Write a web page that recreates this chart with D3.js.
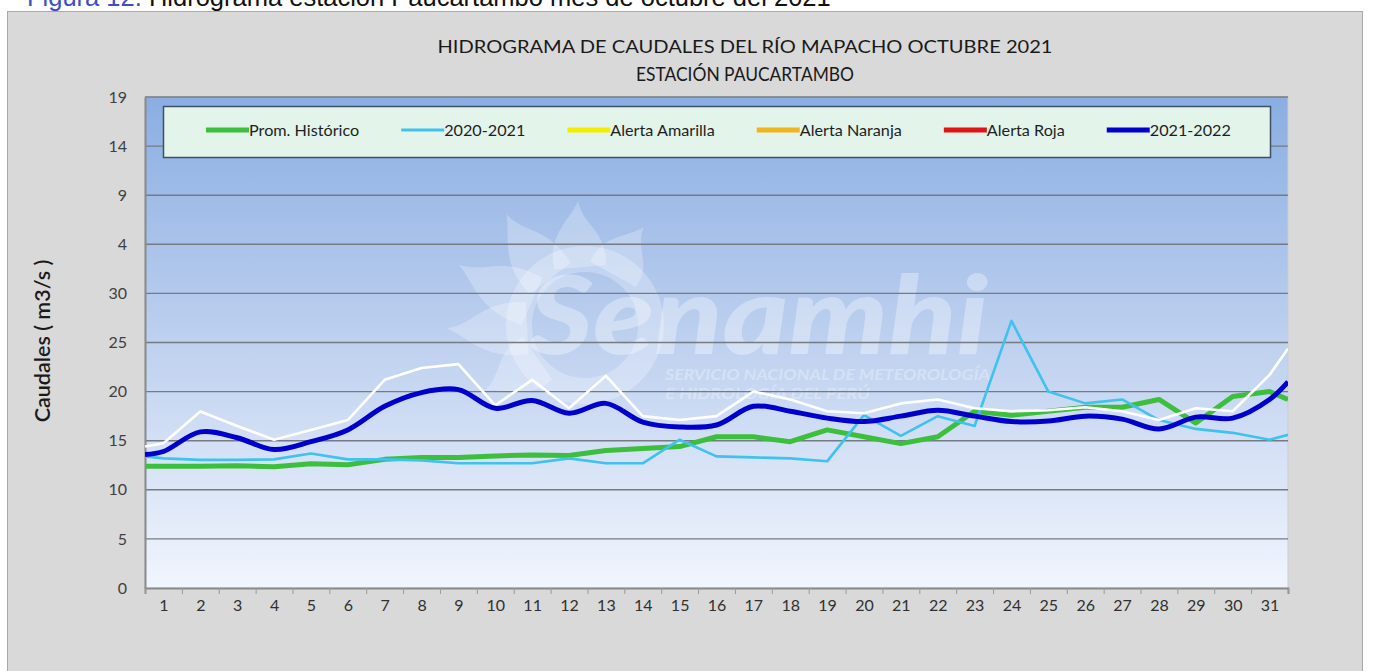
<!DOCTYPE html>
<html>
<head>
<meta charset="utf-8">
<title>Hidrograma de caudales del río Mapacho, octubre 2021</title>
<style>
  body { margin: 0; background: #ffffff; }
  svg { display: block; }
  text { font-family: Lato, "Open Sans", sans-serif; }
</style>
</head>
<body>
<svg width="1377" height="671"></svg>
<script src="https://d3js.org/d3.v7.min.js"></script>
<script>

// Dias del mes (categorias del eje x)
var dias = [1, 2, 3, 4, 5, 6, 7, 8, 9, 10, 11, 12, 13, 14, 15, 16,
            17, 18, 19, 20, 21, 22, 23, 24, 25, 26, 27, 28, 29, 30, 31];

// Posicion de cada punto: borde izquierdo, dias 1-31, borde derecho
var posX = [0.5, 1, 2, 3, 4, 5, 6, 7, 8, 9, 10, 11, 12, 13, 14, 15, 16,
            17, 18, 19, 20, 21, 22, 23, 24, 25, 26, 27, 28, 29, 30, 31, 31.5];

// Caudales (m3/s)
var promHistorico = [12.4, 12.4, 12.4, 12.45, 12.35, 12.65, 12.55, 13.1, 13.3, 13.3, 13.45,
                     13.55, 13.5, 14.0, 14.2, 14.4, 15.4, 15.4, 14.9, 16.1, 15.4, 14.7,
                     15.4, 18.0, 17.6, 18.0, 18.4, 18.4, 19.2, 16.8, 19.5, 20.0, 19.2];

var serie2020 = [13.4, 13.2, 13.05, 13.05, 13.1, 13.7, 13.1, 13.1, 13.0, 12.7, 12.7,
                 12.7, 13.2, 12.7, 12.7, 15.1, 13.4, 13.3, 13.2, 12.9, 17.6, 15.5,
                 17.5, 16.5, 27.2, 20.0, 18.8, 19.2, 17.1, 16.2, 15.8, 15.1, 15.6];

var serieBlanca = [14.4, 14.75, 17.97, 16.5, 15.1, 16.1, 17.1, 21.2, 22.4, 22.8, 18.6,
                   21.2, 18.3, 21.6, 17.5, 17.1, 17.5, 20.0, 19.2, 18.0, 17.8, 18.8,
                   19.2, 18.3, 18.0, 18.1, 18.4, 18.0, 17.1, 18.3, 18.0, 21.7, 24.4];

var serie2021 = [13.6, 13.9, 15.9, 15.3, 14.1, 14.9, 16.1, 18.5, 19.9, 20.2, 18.3,
                 19.1, 17.8, 18.8, 16.9, 16.4, 16.6, 18.5, 18.0, 17.3, 16.95, 17.5,
                 18.1, 17.5, 16.95, 17.0, 17.5, 17.2, 16.2, 17.4, 17.3, 19.2, 21.0];

// Eje y: valores y etiquetas tal como aparecen
var yTicks = [0, 5, 10, 15, 20, 25, 30, 35, 40, 45, 50];
var yEtiquetas = ["0", "5", "10", "15", "20", "25", "30", "4", "9", "14", "19"];

// Leyenda
var leyenda = ["Prom. Histórico", "2020-2021", "Alerta Amarilla", "Alerta Naranja", "Alerta Roja", "2021-2022"];
var leyendaColor = ["#3cbf3c", "#3fc2ee", "#f2ee00", "#f0b41c", "#e01414", "#0000cc"];
var leyendaAncho = [5, 3, 5, 5, 5, 5];

var svg = d3.select("svg");

// (no usar "top": es propiedad de window)
var pL = 145, pR = 1288, pT = 97, pB = 588;

var x = d3.scaleLinear().domain([0.5, 31.5]).range([pL, pR]);
var y = d3.scaleLinear().domain([0, 50]).range([pB, pT]);

var defs = svg.append("defs");
var grad = defs.append("linearGradient")
    .attr("id", "fondo")
    .attr("x1", 0).attr("y1", 0).attr("x2", 0).attr("y2", 1);
grad.append("stop").attr("offset", "0%").attr("stop-color", "#8aaee2");
grad.append("stop").attr("offset", "45%").attr("stop-color", "#b9cdee");
grad.append("stop").attr("offset", "100%").attr("stop-color", "#f1f5fd");

defs.append("clipPath").attr("id", "clip")
  .append("rect")
    .attr("x", pL).attr("y", pT)
    .attr("width", pR - pL).attr("height", pB - pT);

// Caption del documento (cortado arriba)
var cap = svg.append("text")
    .attr("x", 27)
    .attr("y", 6)
    .style("font-family", "'Liberation Sans', Arial, sans-serif")
    .style("font-size", "25.5px");
cap.append("tspan").attr("fill", "#3d4fc4").text("Figura 12.");
cap.append("tspan").attr("fill", "#111").text(" Hidrograma estación Paucartambo mes de octubre del 2021");

// Marco gris
svg.append("rect")
    .attr("x", 7.5).attr("y", 11.5)
    .attr("width", 1355).attr("height", 700)
    .attr("fill", "#d9d9d9")
    .attr("stroke", "#a9a9a9");

// Titulo
svg.append("text")
    .attr("x", 745).attr("y", 53)
    .attr("text-anchor", "middle")
    .attr("fill", "#1a1a1a")
    .attr("textLength", 615)
    .attr("lengthAdjust", "spacingAndGlyphs")
    .style("font-size", "18px")
    .text("HIDROGRAMA DE CAUDALES DEL RÍO MAPACHO OCTUBRE 2021");
svg.append("text")
    .attr("x", 745).attr("y", 81)
    .attr("text-anchor", "middle")
    .attr("fill", "#1a1a1a")
    .attr("textLength", 218)
    .attr("lengthAdjust", "spacingAndGlyphs")
    .style("font-size", "18.5px")
    .text("ESTACIÓN PAUCARTAMBO");

// Area de trazado
svg.append("rect")
    .attr("x", pL).attr("y", pT)
    .attr("width", pR - pL).attr("height", pB - pT)
    .attr("fill", "url(#fondo)")
    .attr("stroke", "#c8ccd4");

// Marca de agua Senamhi
var wm = svg.append("g").attr("clip-path", "url(#clip)").attr("fill", "#ffffff");
var cx = 585, cy = 325;
var petalos = [[-125, 120], [-93, 138], [-66, 140], [-37, 136], [-5, 124], [29, 114]];
wm.selectAll("path.petalo")
  .data(petalos)
  .enter().append("path")
    .attr("class", "petalo")
    .attr("fill-opacity", 0.25)
    .attr("transform", function(d) { return "translate(" + cx + "," + cy + ") rotate(" + d[0] + ")"; })
    .attr("d", function(d) {
        var r = d[1];
        return "M-26,-58 C-30,-" + (r * 0.75) + " -6,-" + (r * 0.85) + " 4,-" + r +
               " C6,-" + (r * 0.8) + " 30,-" + (r * 0.75) + " 26,-58 Z";
    });
wm.append("circle")
    .attr("cx", cx).attr("cy", cy).attr("r", 66)
    .attr("fill", "none")
    .attr("stroke", "#ffffff")
    .attr("stroke-opacity", 0.25)
    .attr("stroke-width", 26);
wm.append("text")
    .attr("x", 528).attr("y", 354)
    .attr("fill-opacity", 0.33)
    .attr("textLength", 460)
    .attr("lengthAdjust", "spacingAndGlyphs")
    .style("font-size", "108px")
    .style("font-weight", "900")
    .style("font-style", "italic")
    .text("Senamhi");
wm.append("text")
    .attr("x", 665).attr("y", 380)
    .attr("fill-opacity", 0.3)
    .attr("textLength", 325)
    .attr("lengthAdjust", "spacingAndGlyphs")
    .style("font-size", "16px")
    .style("font-weight", "700")
    .style("font-style", "italic")
    .text("SERVICIO NACIONAL DE METEOROLOGÍA");
wm.append("text")
    .attr("x", 665).attr("y", 399)
    .attr("fill-opacity", 0.3)
    .attr("textLength", 205)
    .attr("lengthAdjust", "spacingAndGlyphs")
    .style("font-size", "16px")
    .style("font-weight", "700")
    .style("font-style", "italic")
    .text("E HIDROLOGÍA DEL PERÚ");

// Lineas de division
svg.append("g").selectAll("line")
  .data(yTicks.slice(1))
  .enter().append("line")
    .attr("x1", pL).attr("x2", pR)
    .attr("y1", function(d) { return y(d); })
    .attr("y2", function(d) { return y(d); })
    .attr("stroke", "#767a82")
    .attr("stroke-width", 1.4);

// Eje y
var ejeY = svg.append("g")
    .attr("transform", "translate(" + pL + ",0)")
    .call(d3.axisLeft(y)
        .tickValues(yTicks)
        .tickFormat(function(d, i) { return yEtiquetas[i]; })
        .tickSize(0)
        .tickPadding(18));
ejeY.select(".domain").attr("stroke", "#8a8a8a").attr("stroke-width", 2);
ejeY.selectAll("text")
    .attr("fill", "#404040")
    .style("font-size", "16px")
    .style("font-family", "Lato, sans-serif");

// Eje x: marcas entre categorias
var marcas = svg.append("g")
    .attr("transform", "translate(0," + pB + ")")
    .call(d3.axisBottom(x)
        .tickValues(dias.map(function(d) { return d - 0.5; }).concat([31.5]))
        .tickFormat("")
        .tickSize(6));
marcas.select(".domain").attr("stroke", "#8a8a8a").attr("stroke-width", 2);
marcas.selectAll(".tick line").attr("stroke", "#9a9a9a");

// Eje x: etiquetas de dias
var ejeX = svg.append("g")
    .attr("transform", "translate(0," + pB + ")")
    .call(d3.axisBottom(x)
        .tickValues(dias)
        .tickSize(0)
        .tickPadding(12));
ejeX.select(".domain").remove();
ejeX.selectAll("text")
    .attr("fill", "#303030")
    .style("font-size", "16px")
    .style("font-family", "Lato, sans-serif");

// Titulo del eje y
svg.append("text")
    .attr("transform", "translate(50,341) rotate(-90)")
    .attr("text-anchor", "middle")
    .attr("fill", "#1a1a1a")
    .style("font-size", "21.5px")
    .style("font-weight", "600")
    .text("Caudales ( m3/s )");

// Series
var linea = d3.line()
    .x(function(d, i) { return x(posX[i]); })
    .y(function(d) { return y(d); });

var lineaSuave = d3.line()
    .x(function(d, i) { return x(posX[i]); })
    .y(function(d) { return y(d); })
    .curve(d3.curveCatmullRom.alpha(0.5));

var series = svg.append("g").attr("clip-path", "url(#clip)").attr("fill", "none");

series.append("path")
    .attr("d", linea(promHistorico))
    .attr("stroke", "#3cbf3c")
    .attr("stroke-width", 5)
    .attr("stroke-linejoin", "round");

series.append("path")
    .attr("d", linea(serie2020))
    .attr("stroke", "#3fc2ee")
    .attr("stroke-width", 2.6)
    .attr("stroke-linejoin", "round");

series.append("path")
    .attr("d", linea(serieBlanca))
    .attr("stroke", "#ffffff")
    .attr("stroke-width", 2.6)
    .attr("stroke-linejoin", "round");

series.append("path")
    .attr("d", lineaSuave(serie2021))
    .attr("stroke", "#0000cc")
    .attr("stroke-width", 5)
    .attr("stroke-linejoin", "round");

// Leyenda
svg.append("rect")
    .attr("x", 163.5).attr("y", 106.5)
    .attr("width", 1107).attr("height", 51)
    .attr("fill", "#e3f4eb")
    .attr("stroke", "#3e4f66")
    .attr("stroke-width", 1.5);

var cursor = 206;
leyenda.forEach(function(nombre, i) {
    svg.append("line")
        .attr("x1", cursor).attr("x2", cursor + 43)
        .attr("y1", 130).attr("y2", 130)
        .attr("stroke", leyendaColor[i])
        .attr("stroke-width", leyendaAncho[i]);
    var t = svg.append("text")
        .attr("x", cursor + 43)
        .attr("y", 135.5)
        .attr("fill", "#1e1e1e")
        .style("font-size", "16.2px")
        .text(nombre);
    cursor += 43 + t.node().getComputedTextLength() + 42;
});

</script>
</body>
</html>
